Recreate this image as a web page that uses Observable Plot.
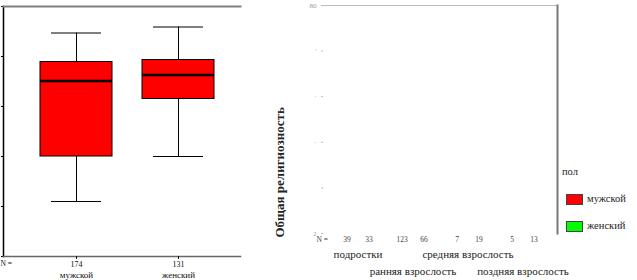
<!DOCTYPE html>
<html><head><meta charset="utf-8">
<script src="https://cdn.jsdelivr.net/npm/d3@7"></script>
<script src="https://cdn.jsdelivr.net/npm/@observablehq/plot@0.6"></script>
<style>
body{margin:0;background:#fff;}
#wrap{position:relative;width:637px;height:280px;overflow:hidden;font-family:"Liberation Serif","Times New Roman",serif;}
#left{position:absolute;left:0;top:0;}
#right{position:absolute;left:250px;top:0;}
.lg{position:absolute;font-size:10.5px;color:#222;line-height:12px;white-space:nowrap;}
.sw{position:absolute;width:17px;height:11px;box-sizing:border-box;border:1px solid #444;}
</style></head><body>
<div id="wrap"><div id="left"></div><div id="right"></div><div id="legend"></div></div>
<script>
// Left panel: box plot by sex
const sexes = ["мужской", "женский"];
const sexN = [174, 131];
const whiskerLow = [1.1, 2.0];
const q1 = [2.0, 3.15];
const median = [3.51, 3.63];
const q3 = [3.89, 3.93];
const whiskerHigh = [4.47, 4.59];
const leftTicks = [0, 1, 2, 3, 4, 5];

// Right panel: empty box plot by age group and sex
const ageGroups = ["подростки", "ранняя взрослость", "средняя взрослость", "поздняя взрослость"];
const maleN = [39, 123, 7, 5];
const femaleN = [33, 66, 19, 13];
const rightTicks = [0, 1, 2, 3, 4, 5];
const rightTickLabels = ["2", "", "·", "·", "'", "80"];
const yTitle = "Общая религиозность";
const nLabel = "N =";
const legendTitle = "пол";
const legendLabels = ["мужской", "женский"];
const legendColors = ["#ff0000", "#00ff00"];

const boxes = sexes.map((s, i) => ({sex: s, lo: whiskerLow[i], q1: q1[i], med: median[i], q3: q3[i], hi: whiskerHigh[i]}));
const font = "'Liberation Serif', 'Times New Roman', serif";

const left = Plot.plot({
  width: 245, height: 280,
  marginLeft: 3, marginRight: 5, marginTop: 6, marginBottom: 24,
  style: {fontFamily: font, background: "transparent", color: "#111"},
  x: {type: "band", domain: sexes, range: [25, 229], padding: 0},
  y: {domain: [0, 5], range: [256, 6]},
  marks: [
    Plot.axisY({ticks: leftTicks, tickSize: 2, tickFormat: () => "", stroke: "#000", label: null}),
    Plot.frame({anchor: "left", stroke: "#000", strokeWidth: 1.5}),
    Plot.frame({anchor: "top", stroke: "#808080", strokeWidth: 2}),
    Plot.frame({anchor: "bottom", stroke: "#666", strokeWidth: 1.5}),
    Plot.axisX({tickSize: 3, tickPadding: 2, fontSize: 8, label: null, tickFormat: d => sexN[sexes.indexOf(d)]}),
    Plot.axisX({tickSize: 0, tickPadding: 15, fontSize: 9, label: null}),
    Plot.text([nLabel], {frameAnchor: "bottom-left", dx: -3, dy: 9, textAnchor: "start", fontSize: 7.5}),
    Plot.ruleX(boxes, {x: "sex", y1: "lo", y2: "hi", stroke: "#000"}),
    Plot.tickY(boxes, {x: "sex", y: "lo", insetLeft: 26, insetRight: 26, stroke: "#000"}),
    Plot.tickY(boxes, {x: "sex", y: "hi", insetLeft: 26, insetRight: 26, stroke: "#000"}),
    Plot.barY(boxes, {x: "sex", y1: "q1", y2: "q3", fill: "#ff0000", stroke: "#000", insetLeft: 15, insetRight: 15}),
    Plot.tickY(boxes, {x: "sex", y: "med", strokeWidth: 2.5, insetLeft: 15, insetRight: 15, stroke: "#000"})
  ]
});
document.getElementById("left").append(left);

const groups = ageGroups.map((g, i) => ({group: g, m: maleN[i], f: femaleN[i]}));
const right = Plot.plot({
  width: 387, height: 280,
  marginLeft: 73, marginRight: 80, marginTop: 5, marginBottom: 47,
  style: {fontFamily: font, background: "transparent", color: "#222"},
  x: {type: "band", domain: ageGroups, range: [80, 300], padding: 0},
  y: {domain: [0, 5], range: [233, 5]},
  marks: [
    Plot.frame({anchor: "top", stroke: "#bbb"}),
    Plot.frame({anchor: "right", stroke: "#777", strokeWidth: 2}),
    Plot.axisY({ticks: rightTicks, tickSize: 2, tickPadding: 5, stroke: "#bbb", fill: "#999", fontSize: 7, label: null,
      tickFormat: d => rightTickLabels[d]}),
    Plot.text([yTitle], {frameAnchor: "bottom-left", dx: -40, dy: 4, rotate: -90, textAnchor: "start", fontSize: 13, fontWeight: "bold", fill: "#222"}),
    Plot.text([nLabel], {frameAnchor: "bottom-left", dx: -7, dy: 8, textAnchor: "start", fontSize: 7.5, fill: "#444"}),
    Plot.text(groups, {x: "group", text: "m", frameAnchor: "bottom", dx: -11, dy: 8, fontSize: 7.5, fill: "#444"}),
    Plot.text(groups, {x: "group", text: "f", frameAnchor: "bottom", dx: 11, dy: 8, fontSize: 7.5, fill: "#444"}),
    Plot.axisX({ticks: [ageGroups[0], ageGroups[2]], tickSize: 0, tickPadding: 17, fontSize: 11, label: null}),
    Plot.axisX({ticks: [ageGroups[1], ageGroups[3]], tickSize: 0, tickPadding: 34, fontSize: 11, label: null})
  ]
});
document.getElementById("right").append(right);

// Legend
const lg = document.getElementById("legend");
const add = (cls, x, y, txt, bg) => {
  const d = document.createElement("div");
  d.className = cls; d.style.left = x + "px"; d.style.top = y + "px";
  if (txt) d.textContent = txt;
  if (bg) d.style.background = bg;
  lg.append(d);
};
add("lg", 562, 166, legendTitle);
legendLabels.forEach((l, i) => {
  add("sw", 566, 194 + i * 27, null, legendColors[i]);
  add("lg", 587, 193 + i * 27, l);
});
</script>
</body></html>
